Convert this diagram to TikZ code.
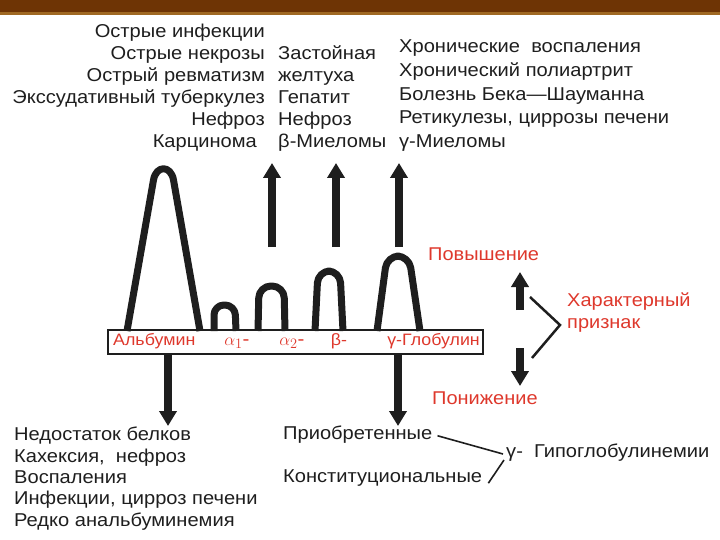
\documentclass[tikz,border=0pt]{standalone}
\usepackage{fontspec}
\setmainfont{Liberation Sans}[FakeStretch=1.08]
\usetikzlibrary{arrows.meta}
\definecolor{barbrown}{RGB}{110,52,5}
\definecolor{bargold}{RGB}{160,105,35}
\definecolor{lbl}{RGB}{222,56,44}
\definecolor{ink}{RGB}{30,30,30}
\begin{document}
\begin{tikzpicture}[x=1pt,y=-1pt,
  txt/.style={font=\fontsize{18.6}{21}\selectfont, text=ink, inner sep=0pt},
  redtxt/.style={font=\fontsize{18.5}{22}\selectfont, text=lbl, inner sep=0pt},
  boxtxt/.style={font=\fontsize{16.5}{18}\selectfont, text=lbl, inner sep=0pt},
  peak/.style={draw=ink, line width=7pt, line join=round},
  bigarrow/.style={draw=ink, line width=7.5pt, -{Triangle[width=17pt,length=15pt]}},
  thin/.style={draw=ink, line width=2.5pt}]
\useasboundingbox (0,0) rectangle (720,540);
\fill[barbrown] (0,0) rectangle (720,12);
\fill[bargold] (0,12) rectangle (720,15);

% top-left list
\node[txt, anchor=mid east] (a1) at (265,35) {Острые инфекции};
\node[txt, anchor=mid east] (a2) at (265,57) {Острые некрозы};
\node[txt, anchor=mid east] (a3) at (265,79) {Острый ревматизм};
\node[txt, anchor=mid east] (a4) at (265,101) {Экссудативный туберкулез};
\node[txt, anchor=mid east] (a5) at (265,123) {Нефроз};
\node[txt, anchor=mid east] (a6) at (257,145) {Карцинома};
% middle list
\node[txt, anchor=mid west] (b1) at (278,57) {Застойная};
\node[txt, anchor=mid west] (b2) at (278,79) {желтуха};
\node[txt, anchor=mid west] (b3) at (278,101) {Гепатит};
\node[txt, anchor=mid west] (b4) at (278,123) {Нефроз};
\node[txt, anchor=mid west] (b5) at (278,145) {β-Миеломы};
% right list
\node[txt, anchor=mid west] (c1) at (399,50) {Хронические\ \ воспаления};
\node[txt, anchor=mid west] (c2) at (399,74) {Хронический полиартрит};
\node[txt, anchor=mid west] (c3) at (399,98) {Болезнь Бека—Шауманна};
\node[txt, anchor=mid west] (c4) at (399,121) {Ретикулезы, циррозы печени};
\node[txt, anchor=mid west] (c5) at (399,145) {γ-Миеломы};

% peaks
\draw[peak] (127,331) -- (153.5,180) .. controls (156.1,165) and (170.9,165) .. (173.5,180) -- (200,331);
\draw[peak, rounded corners=10pt] (214,331) -- (214,305) -- (235,305) -- (236,331);
\draw[peak, rounded corners=12pt] (258,331) -- (259,286) -- (284,286) -- (285,331);
\draw[peak, rounded corners=12pt] (315,331) -- (318,271) -- (340,271) -- (343,331);
\draw[peak, rounded corners=12pt] (377,331) -- (387,256) -- (409,256) -- (420,331);

% fraction box
\node[draw=ink, line width=2pt, minimum width=375pt, minimum height=24pt, inner sep=0pt] (box) at (295.5,342) {};
\node[boxtxt, anchor=mid west] (alb) at (113,343) {Альбумин};
\node[boxtxt, anchor=mid] (al1) at (237,343) {\fontsize{19}{20}\selectfont$\alpha_1$-};
\node[boxtxt, anchor=mid] (al2) at (292,343) {\fontsize{19}{20}\selectfont$\alpha_2$-};
\node[boxtxt, anchor=mid] (bet) at (339,343) {β-};
\node[boxtxt, anchor=mid east] (gam) at (480,343) {γ-Глобулин};

% up arrows
\coordinate (u1s) at (272,247); \coordinate (u1e) at (272,163);
\coordinate (u2s) at (336,247); \coordinate (u2e) at (336,163);
\coordinate (u3s) at (399,247); \coordinate (u3e) at (399,163);
\draw[bigarrow] (u1s) -- (u1e);
\draw[bigarrow] (u2s) -- (u2e);
\draw[bigarrow] (u3s) -- (u3e);

% down arrows
\coordinate (d1s) at (168,355); \coordinate (d1e) at (168,426);
\coordinate (d2s) at (398,355); \coordinate (d2e) at (398,426);
\draw[bigarrow] (d1s) -- (d1e);
\draw[bigarrow] (d2s) -- (d2e);

% legend
\node[redtxt, anchor=mid west] (up) at (428,258) {Повышение};
\node[redtxt, anchor=mid west] (dn) at (432,402) {Понижение};
\node[redtxt, anchor=mid west, align=left] (ch) at (567,326) {Характерный\\признак};
\coordinate (lu1) at (520,310); \coordinate (lu2) at (520,272);
\coordinate (ld1) at (520,348); \coordinate (ld2) at (520,386);
\draw[bigarrow] (lu1) -- (lu2);
\draw[bigarrow] (ld1) -- (ld2);
\coordinate (br1) at (530,297); \coordinate (brc) at (560,325); \coordinate (br2) at (532,358);
\draw[thin] (br1) -- (brc) -- (br2);

% bottom-left list
\node[txt, anchor=mid west] (e1) at (14,438) {Недостаток белков};
\node[txt, anchor=mid west] (e2) at (14,460) {Кахексия,\ \ нефроз};
\node[txt, anchor=mid west] (e3) at (14,481) {Воспаления};
\node[txt, anchor=mid west] (e4) at (14,502) {Инфекции, цирроз печени};
\node[txt, anchor=mid west] (e5) at (14,524) {Редко анальбуминемия};

% bottom-right
\node[txt, anchor=mid west] (f1) at (283,437) {Приобретенные};
\node[txt, anchor=mid west] (f2) at (283,480) {Конституциональные};
\node[txt, anchor=mid west] (g) at (506,455) {γ-\ \ Гипоглобулинемии};
\coordinate (jc1) at (503,454);
\coordinate (jc2) at (504,460);
\draw[line width=1.6pt, draw=ink] ([xshift=5pt,yshift=-1pt]f1.east) -- (jc1);
\draw[line width=1.6pt, draw=ink] ([xshift=6pt,yshift=-5pt]f2.east) -- (jc2);
\end{tikzpicture}
\end{document}
